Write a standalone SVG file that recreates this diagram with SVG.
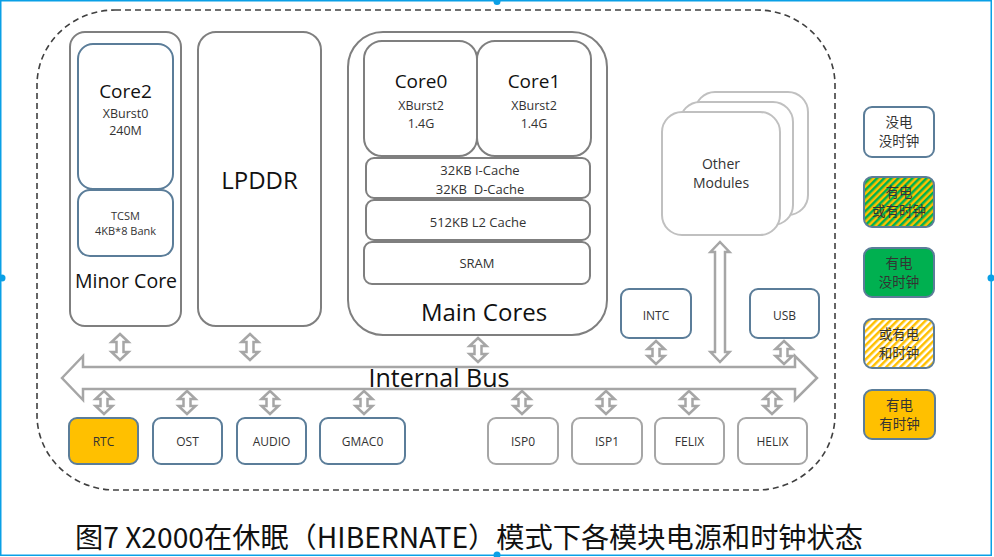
<svg xmlns="http://www.w3.org/2000/svg" width="994" height="557" viewBox="0 0 994 557">
<defs>
<style>
text{font-family:"Open Sans","Noto Sans","Noto Sans CJK SC",sans-serif;fill:#333;text-anchor:middle}
.blk{fill:#111}
.cjk{font-family:"Noto Sans CJK SC","Noto Sans",sans-serif}
.gbox{fill:#fff;stroke:#7f7f7f;stroke-width:2}
.bbox{fill:#fff;stroke:#5b7d99;stroke-width:2}
.lbox{fill:#fff;stroke:#a6a6a6;stroke-width:2}
.obox{fill:#fff;stroke:#c0c0c0;stroke-width:2}
.arr{fill:#fff;stroke:#a6a6a6;stroke-width:2.5;stroke-linejoin:miter}
.leg{stroke:#5b7d99;stroke-width:2}
.lt{font-size:13.5px}
</style>
<pattern id="gy" patternUnits="userSpaceOnUse" width="5" height="5" patternTransform="rotate(45)">
<rect width="5" height="5" fill="#FFC000"/><rect width="2.5" height="5" fill="#00B050"/>
</pattern>
<pattern id="wy" patternUnits="userSpaceOnUse" width="5" height="5" patternTransform="rotate(45)">
<rect width="5" height="5" fill="#fff"/><rect width="2.5" height="5" fill="#FFC000"/>
</pattern>
</defs>
<rect width="994" height="557" fill="#fff"/>
<g id="frame">
<rect x="0.75" y="0.75" width="990.5" height="554.5" fill="none" stroke="#0aa0e6" stroke-width="1.5"/>
<circle cx="2" cy="278" r="3.5" fill="#0aa0e6"/>
<circle cx="497" cy="1.5" r="3.5" fill="#0aa0e6"/>
<circle cx="991" cy="278" r="3.5" fill="#0aa0e6"/>
<circle cx="497" cy="555" r="3.5" fill="#0aa0e6"/>
</g>
<g id="chip">
<rect x="37" y="10" width="798" height="480" rx="78" ry="75" fill="none" stroke="#404040" stroke-width="1.6" stroke-dasharray="6,4"/>
</g>
<g id="minor-core">
<rect class="gbox" x="70" y="32" width="111" height="294" rx="15"/>
<rect class="bbox" x="78" y="44" width="95" height="145" rx="15"/>
<rect class="bbox" x="78" y="190" width="95" height="66" rx="12"/>
<text x="125.5" y="98" font-size="19" class="blk">Core2</text>
<text x="125.5" y="118" font-size="12.5">XBurst0<tspan x="125.5" dy="17">240M</tspan></text>
<text x="125.5" y="220" font-size="11">TCSM<tspan x="125.5" dy="15">4KB*8 Bank</tspan></text>
<text x="126" y="288" font-size="19.5" class="blk">Minor Core</text>
</g>
<g id="lpddr">
<rect class="gbox" x="198" y="32" width="123" height="294" rx="18"/>
<text x="259.5" y="189" font-size="24" class="blk">LPDDR</text>
</g>
<g id="main-cores">
<rect class="gbox" x="348" y="32" width="259" height="303" rx="35"/>
<rect class="gbox" x="364" y="41" width="113" height="115" rx="18"/>
<rect class="gbox" x="477" y="41" width="114" height="115" rx="18"/>
<text x="421" y="88" font-size="19" class="blk">Core0</text>
<text x="421" y="110" font-size="12.5">XBurst2<tspan x="421" dy="18">1.4G</tspan></text>
<text x="534" y="88" font-size="19" class="blk">Core1</text>
<text x="534" y="110" font-size="12.5">XBurst2<tspan x="534" dy="18">1.4G</tspan></text>
<rect class="gbox" x="366" y="158" width="224" height="40" rx="8"/>
<text x="480" y="175" font-size="13" xml:space="preserve">32KB I-Cache<tspan x="480" dy="19">32KB  D-Cache</tspan></text>
<rect class="gbox" x="366" y="200" width="224" height="40" rx="8"/>
<text x="478" y="227" font-size="13">512KB L2 Cache</text>
<rect class="gbox" x="364" y="242" width="226" height="42" rx="8"/>
<text x="477" y="268" font-size="13">SRAM</text>
<text x="484" y="321" font-size="24" class="blk">Main Cores</text>
</g>
<g id="other-modules">
<rect class="obox" x="695" y="92" width="113" height="123" rx="20"/>
<rect class="obox" x="680" y="102" width="113" height="123" rx="20"/>
<rect class="obox" x="662" y="112" width="118" height="123" rx="20"/>
<text x="721" y="169" font-size="14">Other<tspan x="721" dy="19">Modules</tspan></text>
</g>
<g id="intc">
<rect class="bbox" x="621" y="289" width="70" height="49" rx="8"/>
<text x="656" y="320" font-size="12">INTC</text>
</g>
<g id="usb">
<rect class="bbox" x="750" y="289" width="69" height="49" rx="8"/>
<text x="784.5" y="320" font-size="12">USB</text>
</g>
<g id="rtc">
<rect x="69" y="418" width="69" height="46" rx="8" fill="#FFC000" stroke="#5b7d99" stroke-width="2"/>
<text x="103.5" y="446" font-size="12">RTC</text>
</g>
<g id="ost">
<rect class="bbox" x="153" y="418" width="69" height="46" rx="8"/>
<text x="187.5" y="446" font-size="12">OST</text>
</g>
<g id="audio">
<rect class="bbox" x="237" y="418" width="69" height="46" rx="8"/>
<text x="271.5" y="446" font-size="12">AUDIO</text>
</g>
<g id="gmac0">
<rect class="bbox" x="320" y="418" width="85" height="46" rx="8"/>
<text x="362.5" y="446" font-size="12">GMAC0</text>
</g>
<g id="isp0">
<rect class="lbox" x="488" y="418" width="70" height="46" rx="8"/>
<text x="523" y="446" font-size="12">ISP0</text>
</g>
<g id="isp1">
<rect class="lbox" x="572" y="418" width="70" height="46" rx="8"/>
<text x="607" y="446" font-size="12">ISP1</text>
</g>
<g id="felix">
<rect class="lbox" x="655" y="418" width="69" height="46" rx="8"/>
<text x="689.5" y="446" font-size="12">FELIX</text>
</g>
<g id="helix">
<rect class="lbox" x="738" y="418" width="69" height="46" rx="8"/>
<text x="772.5" y="446" font-size="12">HELIX</text>
</g>
<g id="connectors">
<polygon class="arr" points="62,378 83,356 83,367 795,367 795,356 817,378 795,400 795,389 83,389 83,400"/>
<g id="bus-label"><text x="439" y="387" font-size="25" class="blk">Internal Bus</text></g>
<polygon class="arr" points="720,242 729.5,252 725,252 725,352 729.5,352 720,362 710.5,352 715,352 715,252 710.5,252"/>
<polygon class="arr" points="120,334 128.5,342 123.5,342 123.5,352 128.5,352 120,360 111.5,352 116.5,352 116.5,342 111.5,342"/>
<polygon class="arr" points="250,334 258.5,342 253.5,342 253.5,352 258.5,352 250,360 241.5,352 246.5,352 246.5,342 241.5,342"/>
<polygon class="arr" points="478,338 486.5,346 481.5,346 481.5,354 486.5,354 478,362 469.5,354 474.5,354 474.5,346 469.5,346"/>
<polygon class="arr" points="656,341 664.5,349 659.5,349 659.5,356 664.5,356 656,364 647.5,356 652.5,356 652.5,349 647.5,349"/>
<polygon class="arr" points="784,341 792.5,349 787.5,349 787.5,356 792.5,356 784,364 775.5,356 780.5,356 780.5,349 775.5,349"/>
<polygon class="arr" points="104,391 112.5,399 107.5,399 107.5,406 112.5,406 104,414 95.5,406 100.5,406 100.5,399 95.5,399"/>
<polygon class="arr" points="187,391 195.5,399 190.5,399 190.5,406 195.5,406 187,414 178.5,406 183.5,406 183.5,399 178.5,399"/>
<polygon class="arr" points="270,391 278.5,399 273.5,399 273.5,406 278.5,406 270,414 261.5,406 266.5,406 266.5,399 261.5,399"/>
<polygon class="arr" points="364,391 372.5,399 367.5,399 367.5,406 372.5,406 364,414 355.5,406 360.5,406 360.5,399 355.5,399"/>
<polygon class="arr" points="522,391 530.5,399 525.5,399 525.5,406 530.5,406 522,414 513.5,406 518.5,406 518.5,399 513.5,399"/>
<polygon class="arr" points="606,391 614.5,399 609.5,399 609.5,406 614.5,406 606,414 597.5,406 602.5,406 602.5,399 597.5,399"/>
<polygon class="arr" points="689,391 697.5,399 692.5,399 692.5,406 697.5,406 689,414 680.5,406 685.5,406 685.5,399 680.5,399"/>
<polygon class="arr" points="772,391 780.5,399 775.5,399 775.5,406 780.5,406 772,414 763.5,406 768.5,406 768.5,399 763.5,399"/>
</g>
<g id="legend-1">
<rect class="leg" x="864" y="107" width="70" height="50" rx="8" fill="#fff"/>
<text class="cjk lt" x="899" y="126.5">没电<tspan x="899" dy="19.8">没时钟</tspan></text>
</g>
<g id="legend-2">
<rect class="leg" x="864" y="177" width="70" height="50" rx="8" fill="url(#gy)"/>
<text class="cjk lt" x="899" y="196.5">有电<tspan x="899" dy="19.8">或有时钟</tspan></text>
</g>
<g id="legend-3">
<rect class="leg" x="864" y="248" width="70" height="49" rx="8" fill="#00B050"/>
<text class="cjk lt" x="899" y="267.5">有电<tspan x="899" dy="19.8">没时钟</tspan></text>
</g>
<g id="legend-4">
<rect class="leg" x="864" y="319" width="70" height="49" rx="8" fill="url(#wy)"/>
<text class="cjk lt" x="899" y="338.5">或有电<tspan x="899" dy="19.8">和时钟</tspan></text>
</g>
<g id="legend-5">
<rect class="leg" x="864" y="390" width="71" height="49" rx="8" fill="#FFC000"/>
<text class="cjk lt" x="899.5" y="409.5">有电<tspan x="899.5" dy="19.8">有时钟</tspan></text>
</g>
<g id="caption">
<text class="cjk blk" x="75" y="548" font-size="28" style="text-anchor:start" textLength="788" lengthAdjust="spacingAndGlyphs">图7 X2000在休眠（HIBERNATE）模式下各模块电源和时钟状态</text>
</g>
</svg>
